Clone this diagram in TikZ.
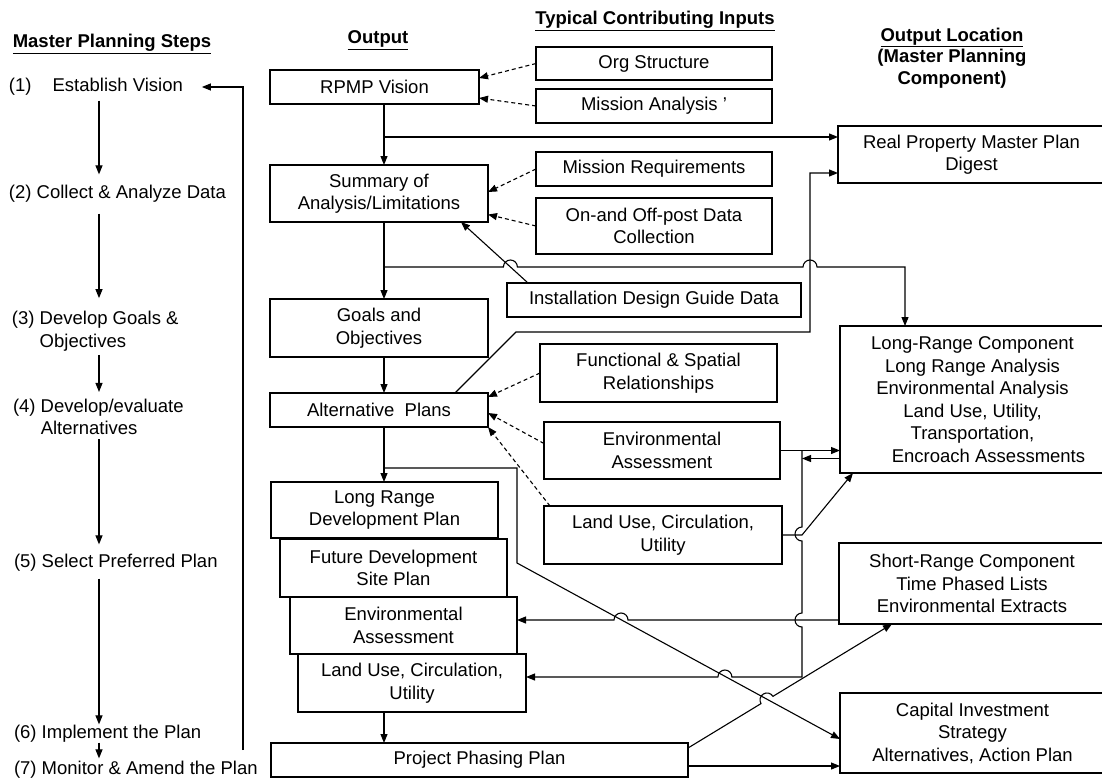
\documentclass[tikz,border=0pt]{standalone}
\usepackage{fontspec}
\setmainfont{Liberation Sans}
\usetikzlibrary{arrows.meta,calc}
\begin{document}
\begin{tikzpicture}[x=1pt,y=-1pt,
  every node/.style={inner sep=0pt, outer sep=0pt},
  txt/.style={font=\fontsize{18.5}{22.5}\selectfont},
  hd/.style={font=\fontsize{18.5}{21.5}\selectfont\bfseries, align=center},
  box/.style={draw, line width=1.1pt, align=center, anchor=north west, font=\fontsize{18.5}{22.5}\selectfont},
  ln/.style={line width=1.1pt},
  ar/.style={ln, -{Triangle[length=9pt,width=7pt]}},
  ra/.style={ln, {Triangle[length=9pt,width=7pt]}-},
  da/.style={ar, dash pattern=on 4pt off 3pt},
]
\fill[white] (0,0) rectangle (1102,781);
\useasboundingbox (0,0) rectangle (1102,781);

% headings
\node[hd] (h1) at (112,44) {\underline{Master Planning Steps}};
\node[hd] (h2) at (378,40) {\underline{Output}};
\node[hd] (h3) at (655,21) {\underline{Typical Contributing Inputs}};
\node[hd] (h4) at (952,58) {\underline{Output Location}\\(Master Planning\\Component)};

% steps
\node[txt, anchor=west] (s1) at (9,87) {(1)\hspace*{21pt}Establish Vision};
\node[txt, anchor=west] (s2) at (9,194) {(2) Collect \& Analyze Data};
\node[txt, anchor=west, align=left] (s3) at (12,331) {(3) Develop Goals \&\\\hphantom{(3)\ }Objectives};
\node[txt, anchor=west, align=left] (s4) at (13,417) {(4) Develop/evaluate\\\hphantom{(4)\ }Alternatives};
\node[txt, anchor=west] (s5) at (14,563) {(5) Select Preferred Plan};
\node[txt, anchor=west] (s6) at (14,734) {(6) Implement the Plan};
\node[txt, anchor=west] (s7) at (14,770) {(7) Monitor \& Amend the Plan};

% output column
\node[box, minimum width=209pt, minimum height=34pt] (rpmp) at (270,70) {RPMP Vision};
\node[box, minimum width=218pt, minimum height=57pt] (summ) at (270,165) {Summary of\\Analysis/Limitations};
\node[box, minimum width=218pt, minimum height=58pt] (goals) at (270,299) {Goals and\\Objectives};
\node[box, minimum width=218pt, minimum height=34pt] (alt) at (270,393) {Alternative\ \ Plans};
\node[box, minimum width=227pt, minimum height=56pt] (lrdp) at (271,482) {Long Range\\Development Plan};
\node[box, minimum width=227pt, minimum height=58pt] (future) at (280,539) {Future Development\\Site Plan};
\node[box, minimum width=227pt, minimum height=57pt] (envout) at (290,597) {Environmental\\Assessment};
\node[box, minimum width=228pt, minimum height=58pt] (luout) at (298,654) {Land Use, Circulation,\\Utility};
\node[box, minimum width=417pt, minimum height=34pt] (project) at (271,743) {Project Phasing Plan};

% inputs
\node[box, minimum width=236pt, minimum height=33pt] (org) at (536,47) {Org Structure};
\node[box, minimum width=236pt, minimum height=34pt] (missan) at (536,89) {Mission Analysis '};
\node[box, minimum width=236pt, minimum height=34pt] (missreq) at (536,152) {Mission Requirements};
\node[box, minimum width=236pt, minimum height=56pt] (onoff) at (536,198) {On-and Off-post Data\\Collection};
\node[box, minimum width=294pt, minimum height=34pt] (install) at (507,283) {Installation Design Guide Data};
\node[box, minimum width=237pt, minimum height=58pt] (func) at (540,344) {Functional \& Spatial\\Relationships};
\node[box, minimum width=236pt, minimum height=57pt] (envin) at (544,422) {Environmental\\Assessment};
\node[box, minimum width=238pt, minimum height=58pt] (luin) at (544,506) {Land Use, Circulation,\\Utility};

% output locations
\node[box, minimum width=267pt, minimum height=57pt] (digest) at (838,126) {Real Property Master Plan\\Digest};
\node[box, minimum width=265pt, minimum height=147pt] (lr) at (840,326) {Long-Range Component\\Long Range Analysis\\Environmental Analysis\\Land Use, Utility,\\Transportation,\\\hspace*{32pt}Encroach Assessments};
\node[box, minimum width=266pt, minimum height=81pt] (short) at (839,543) {Short-Range Component\\Time Phased Lists\\Environmental Extracts};
\node[box, minimum width=265pt, minimum height=80pt] (capital) at (840,693) {Capital Investment\\Strategy\\Alternatives, Action Plan};

% left column arrows
\coordinate (ax) at (99,0);
\draw[ar] ($(s1.south -| ax)+(0,5)$) -- ($(s2.north -| ax)+(0,-11)$);
\draw[ar] ($(s2.south -| ax)+(0,11)$) -- ($(s3.north -| ax)+(0,-13)$);
\draw[ar] ($(s3.south -| ax)+(0,4)$) -- ($(s4.north -| ax)+(0,-7)$);
\draw[ar] ($(s4.south -| ax)+(0,4)$) -- ($(s5.north -| ax)+(0,-10)$);
\draw[ar] ($(s5.south -| ax)+(0,7)$) -- ($(s6.north -| ax)+(0,-1)$);
\draw[ar] ($(s6.south -| ax)+(0,0)$) -- ($(s7.north -| ax)+(0,-3)$);
\coordinate (fb) at (243,750);
\draw[ar] (fb) -- (fb |- s1.east) -- ($(s1.east)+(19,0)$);

% main column
\coordinate (mx) at (384,0);
\draw[ar] (rpmp.south -| mx) -- (summ.north -| mx);
\coordinate (j1) at (384,137);
\draw[ar] (j1) -- (j1 -| digest.west);
\draw[ar] (summ.south -| mx) -- (goals.north -| mx);
\coordinate (j2) at (384,267);
\coordinate (lrx) at (905,267);
\draw[ar] (j2) -- (503.4,267) arc[start angle=180,end angle=360,radius=7] -- (803,267) arc[start angle=180,end angle=360,radius=7] -- (lrx) -- (lrx |- lr.north);
\draw[ar] (goals.south -| mx) -- (alt.north -| mx);
\draw[ar] (alt.south -| mx) -- (lrdp.north -| mx);
\coordinate (j3) at (384,468);
\draw[ar] (j3) -- (517,468) -- (517,563) -- ($(capital.west)+(0,6)$);
\draw[ar] ($(alt.north west)+(185,0)$) -- (516,332) -- (810,332) -- (810,173) -- ($(digest.west)+(0,18.5)$);
\draw[ar] (luout.south -| mx) -- (project.north -| mx);

% dashed inputs
\draw[da] (org.west) -- ($(rpmp.east)+(0,-9)$);
\draw[da] (missan.west) -- ($(rpmp.east)+(0,11)$);
\draw[da] (missreq.west) -- ($(summ.east)+(0,-1.5)$);
\draw[da] (onoff.west) -- ($(summ.east)+(0,21)$);
\draw[ar] ($(install.north west)+(21,0)$) -- ($(summ.south east)+(-27,0)$);
\draw[da] (func.west) -- ($(alt.east)+(0,-13)$);
\draw[da] ($(envin.west)+(0,-7)$) -- ($(alt.east)+(0,3)$);
\draw[da] ($(luin.north west)+(6,0)$) -- (alt.south east);

% right side
\coordinate (bx) at (802,0);
\draw[ar] (envin.east) -- (envin.east -| lr.west);
\coordinate (lrb) at ($(lr.west)+(0,59)$);
\draw[ar] (lrb) -- (lrb -| bx);
\draw[ra] ($(luout.east)+(0,-6)$) -- (717.9,677) arc[start angle=180,end angle=360,radius=7] -- (802,677) -- (802,627) arc[start angle=90,end angle=270,radius=7] -- (802,541) arc[start angle=90,end angle=270,radius=7] -- (802,450);
\draw[ra] ($(envout.east)+(0,-5.5)$) -- (614,620) arc[start angle=180,end angle=360,radius=7] -- ($(short.west)+(0,36.5)$);
\draw[ar] (luin.east) -- (luin.east -| bx) -- ($(lr.south west)+(13,0)$);
\coordinate (pc) at ($(project.east)+(0,6)$);
\draw[ar] (pc) -- (pc -| capital.west);
\draw[ar] ($(project.north east)+(0,5)$) -- (761.0,703.6) arc[start angle=148.7,end angle=328.7,radius=7] -- ($(short.south west)+(53,0)$);
\end{tikzpicture}
\end{document}
